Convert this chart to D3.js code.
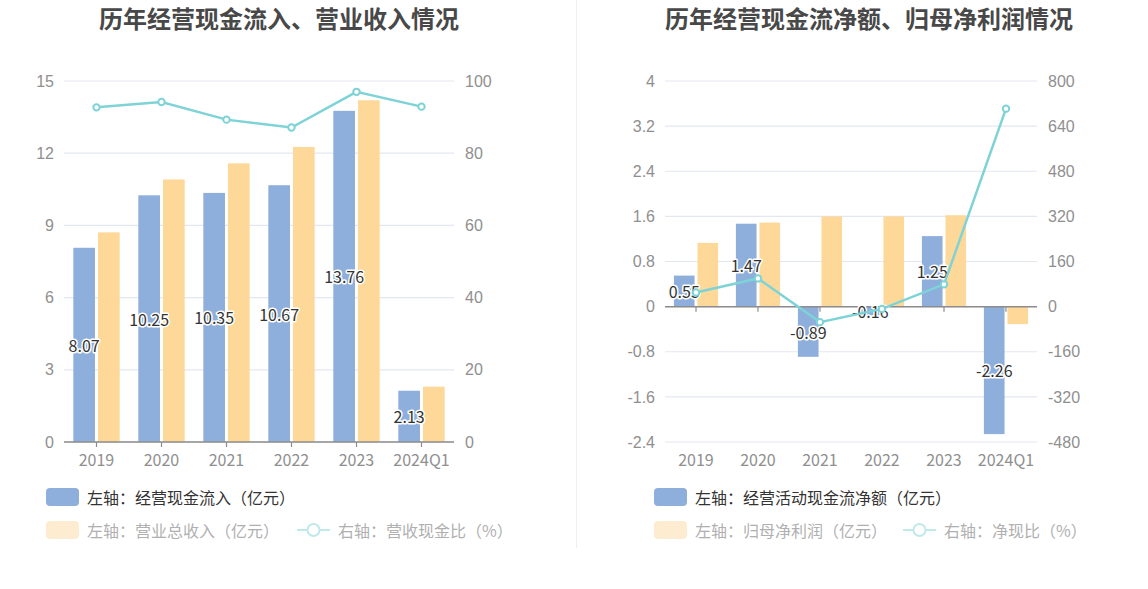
<!DOCTYPE html>
<html><head><meta charset="utf-8">
<script src="https://cdn.jsdelivr.net/npm/d3@7"></script>
<style>
html,body{margin:0;padding:0;background:#fff;}
svg{display:block;font-family:"Noto Sans CJK SC","Noto Sans",sans-serif;}
</style></head>
<body>
<svg id="c" width="1148" height="589"></svg>
<script>
// ---- data ----
const years = ["2019","2020","2021","2022","2023","2024Q1"];
const cashInflow = [8.07,10.25,10.35,10.67,13.76,2.13];
const revenue = [8.71,10.91,11.58,12.26,14.20,2.30];
const cashRevRatio = [92.7,94.2,89.3,87.1,97.0,92.9];
const netCash = [0.55,1.47,-0.89,-0.16,1.25,-2.26];
const netProfit = [1.13,1.49,1.60,1.60,1.62,-0.31];
const netCashRatio = [50,100,-55,-8,79,702];
const leftTicks1 = [0,3,6,9,12,15];
const rightTicks1 = [0,20,40,60,80,100];
const leftTicks2 = [-2.4,-1.6,-0.8,0,0.8,1.6,2.4,3.2,4];
const rightTicks2 = [-480,-320,-160,0,160,320,480,640,800];
const titles = ["历年经营现金流入、营业收入情况","历年经营现金流净额、归母净利润情况"];
const legend1 = ["左轴：经营现金流入（亿元）","左轴：营业总收入（亿元）","右轴：营收现金比（%）"];
const legend2 = ["左轴：经营活动现金流净额（亿元）","左轴：归母净利润（亿元）","右轴：净现比（%）"];

const BLUE="#8eaedb", ORANGE="#fed898", LINE="#7ed3d7", GRID="#e3e7f1", AX="#8c8c8c", LBL="#8f8f8f";
const svg = d3.select("#c");

// divider
svg.append("line").attr("x1",576.5).attr("x2",576.5).attr("y1",0).attr("y2",548)
  .attr("stroke","#efefef").attr("stroke-width",1);

function chart(o){
  const g = svg.append("g");
  g.append("text").attr("x",o.titleX).attr("y",17).attr("text-anchor","middle")
    .attr("dominant-baseline","central").attr("font-size",24).attr("font-weight","bold")
    .attr("fill","#484848").text(o.title);
  const x = d3.scaleBand().domain(years).range([o.x0,o.x1]);
  const bw = x.bandwidth();
  const yL = d3.scaleLinear().domain(o.yLdom).range([442,81]);
  const yR = d3.scaleLinear().domain(o.yRdom).range([442,81]);
  // grid
  g.append("g").selectAll("line").data(o.lt).join("line")
    .attr("x1",o.x0).attr("x2",o.x1).attr("y1",d=>yL(d)).attr("y2",d=>yL(d))
    .attr("stroke",GRID).attr("stroke-width",1.2);
  // left axis labels
  const axL = g.append("g").attr("transform",`translate(${o.x0-10},0)`)
    .call(d3.axisLeft(yL).tickValues(o.lt).tickSize(0).tickPadding(0).tickFormat(d=>String(d)));
  axL.select(".domain").remove();
  axL.selectAll("text").attr("font-size",16).attr("fill",LBL).attr("font-family",null);
  const axR = g.append("g").attr("transform",`translate(${o.x1+11},0)`)
    .call(d3.axisRight(yR).tickValues(o.rt).tickSize(0).tickPadding(0).tickFormat(d=>String(d)));
  axR.select(".domain").remove();
  axR.selectAll("text").attr("font-size",16).attr("fill",LBL).attr("font-family",null);
  // bars
  const w = bw*0.333, off = bw*0.19;
  const y0 = yL(0);
  g.append("g").selectAll("rect").data(o.b1).join("rect")
    .attr("x",(d,i)=>x(years[i])+bw/2-off-w/2).attr("width",w)
    .attr("y",d=>Math.min(yL(d),y0)).attr("height",d=>Math.abs(yL(d)-y0))
    .attr("fill",BLUE);
  g.append("g").selectAll("rect").data(o.b2).join("rect")
    .attr("x",(d,i)=>x(years[i])+bw/2+off-w/2).attr("width",w)
    .attr("y",d=>Math.min(yL(d),y0)).attr("height",d=>Math.abs(yL(d)-y0))
    .attr("fill",ORANGE);
  // x axis line at zero
  const axX = g.append("g").attr("transform",`translate(0,${y0})`)
    .call(d3.axisBottom(x).tickSize(5).tickFormat(""));
  axX.select(".domain").attr("stroke",AX).attr("stroke-width",1.5).attr("d",`M${o.x0},0H${o.x1}`);
  axX.selectAll(".tick line").attr("stroke",AX).attr("stroke-width",1.2);
  // x labels at bottom
  g.append("g").selectAll("text").data(years).join("text")
    .attr("x",d=>x(d)+bw/2).attr("y",459).attr("text-anchor","middle")
    .attr("dominant-baseline","central").attr("font-size",16).attr("fill",LBL).text(d=>d);
  // value labels
  g.append("g").selectAll("text").data(o.b1).join("text")
    .attr("x",(d,i)=>x(years[i])+bw/2-off).attr("y",d=>(yL(d)+y0)/2)
    .attr("text-anchor","middle").attr("dominant-baseline","central")
    .attr("font-size",16).attr("fill","#333").attr("stroke","#fff").attr("stroke-width",3)
    .attr("paint-order","stroke").attr("stroke-linejoin","round").text(d=>d.toFixed(2));
  // line
  const line = d3.line().x((d,i)=>x(years[i])+bw/2).y(d=>yR(d));
  g.append("path").datum(o.ln).attr("d",line).attr("fill","none")
    .attr("stroke",LINE).attr("stroke-width",2.5);
  g.append("g").selectAll("circle").data(o.ln).join("circle")
    .attr("cx",(d,i)=>x(years[i])+bw/2).attr("cy",d=>yR(d)).attr("r",3.2)
    .attr("fill","#fff").attr("stroke",LINE).attr("stroke-width",2);
  // legend
  const lx = o.legX;
  const lg = g.append("g");
  lg.append("rect").attr("x",lx).attr("y",488).attr("width",33).attr("height",18).attr("rx",4)
    .attr("fill",BLUE);
  lg.append("text").attr("x",lx+41).attr("y",497).attr("dominant-baseline","central")
    .attr("font-size",16).attr("fill","#333").text(o.leg[0]);
  lg.append("rect").attr("x",lx).attr("y",521).attr("width",33).attr("height",18).attr("rx",4)
    .attr("fill","#fdecd0");
  lg.append("text").attr("x",lx+41).attr("y",530).attr("dominant-baseline","central")
    .attr("font-size",16).attr("fill","#b0b0b0").text(o.leg[1]);
  lg.append("line").attr("x1",o.legX2).attr("x2",o.legX2+33).attr("y1",530).attr("y2",530)
    .attr("stroke","#bfe9ea").attr("stroke-width",2);
  lg.append("circle").attr("cx",o.legX2+16.5).attr("cy",530).attr("r",6)
    .attr("fill","#fff").attr("stroke","#bfe9ea").attr("stroke-width",2);
  lg.append("text").attr("x",o.legX2+41).attr("y",530).attr("dominant-baseline","central")
    .attr("font-size",16).attr("fill","#b0b0b0").text(o.leg[2]);
}

chart({title:titles[0],titleX:279,x0:64,x1:454,yLdom:[0,15],yRdom:[0,100],lt:leftTicks1,rt:rightTicks1,
  b1:cashInflow,b2:revenue,ln:cashRevRatio,leg:legend1,legX:46,legX2:297});
chart({title:titles[1],titleX:869,x0:665,x1:1037,yLdom:[-2.4,4],yRdom:[-480,800],lt:leftTicks2,rt:rightTicks2,
  b1:netCash,b2:netProfit,ln:netCashRatio,leg:legend2,legX:654,legX2:903});
</script>
</body></html>
